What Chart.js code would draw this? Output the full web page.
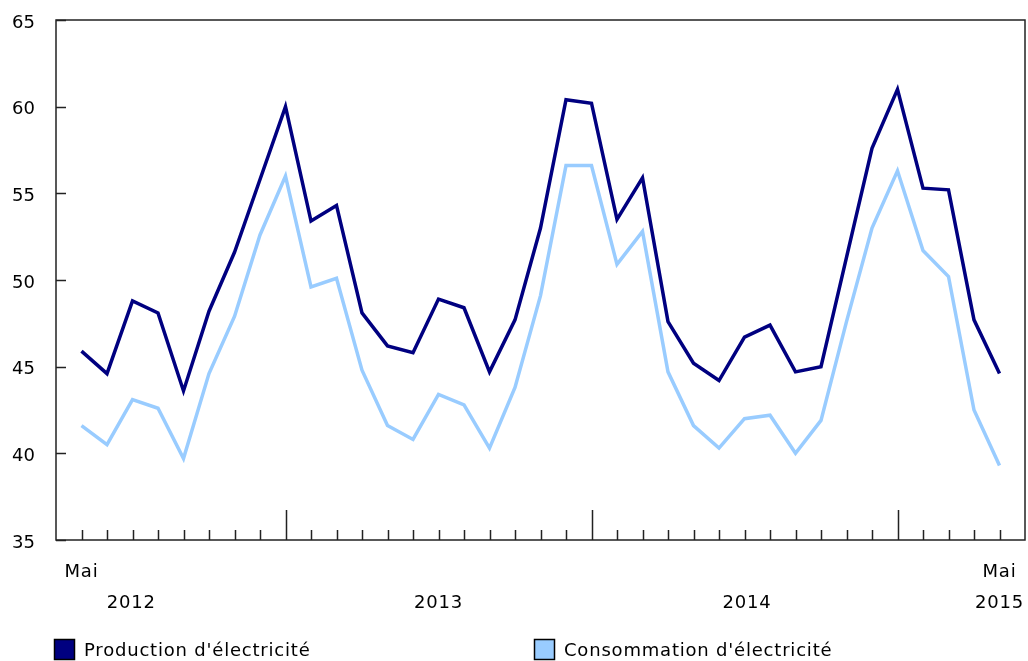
<!DOCTYPE html>
<html>
<head>
<meta charset="utf-8">
<script src="https://cdn.jsdelivr.net/npm/chart.js@4.4.0/dist/chart.umd.min.js"></script>
<style>
  html, body { margin: 0; padding: 0; background: #fff; }
  #wrap { width: 1028px; height: 661px; }
</style>
</head>
<body>
<div id="wrap"><canvas id="mycanvas"></canvas></div>
<script>
// months from May 2012 to May 2015
var months = [
  'mai 2012', 'juin 2012', 'juil. 2012', 'août 2012', 'sept. 2012', 'oct. 2012', 'nov. 2012', 'déc. 2012',
  'janv. 2013', 'févr. 2013', 'mars 2013', 'avr. 2013', 'mai 2013', 'juin 2013', 'juil. 2013', 'août 2013',
  'sept. 2013', 'oct. 2013', 'nov. 2013', 'déc. 2013',
  'janv. 2014', 'févr. 2014', 'mars 2014', 'avr. 2014', 'mai 2014', 'juin 2014', 'juil. 2014', 'août 2014',
  'sept. 2014', 'oct. 2014', 'nov. 2014', 'déc. 2014',
  'janv. 2015', 'févr. 2015', 'mars 2015', 'avr. 2015', 'mai 2015'
];

var production = [
  45.9, 44.6, 48.8, 48.1, 43.6, 48.2, 51.6, 55.8,
  60.0, 53.4, 54.3, 48.1, 46.2, 45.8, 48.9, 48.4, 44.7, 47.7, 53.0, 60.4,
  60.2, 53.5, 55.9, 47.6, 45.2, 44.2, 46.7, 47.4, 44.7, 45.0, 51.3, 57.6,
  61.0, 55.3, 55.2, 47.7, 44.6
];

var consommation = [
  41.6, 40.5, 43.1, 42.6, 39.7, 44.6, 47.9, 52.6,
  56.0, 49.6, 50.1, 44.8, 41.6, 40.8, 43.4, 42.8, 40.3, 43.8, 49.1, 56.6,
  56.6, 50.9, 52.8, 44.7, 41.6, 40.3, 42.0, 42.2, 40.0, 41.9, 47.6, 53.0,
  56.3, 51.7, 50.2, 42.5, 39.3
];

var seriesNames = ["Production d'électricité", "Consommation d'électricité"];
var seriesColors = ['#000080', '#99ccff'];
var yTicks = [35, 40, 45, 50, 55, 60, 65];
var yearLabels = ['2012', '2013', '2014', '2015'];
var yearLabelAt = [1.95, 14, 26.1, 36]; // month index under which each year label sits

var FONT = '"DejaVu Sans", Verdana, sans-serif';

function toPoints(arr) {
  var pts = [];
  for (var i in arr) {
    pts.push({ x: Number(i), y: arr[i] });
  }
  return pts;
}

// frame, inward ticks, x labels and legend
var decor = {
  id: 'decor',
  afterDraw: function(chart) {
    var ctx = chart.ctx;
    var a = chart.chartArea;
    var xs = chart.scales.x;
    var ys = chart.scales.y;
    ctx.save();
    ctx.strokeStyle = '#222';
    ctx.lineWidth = 1.5;
    ctx.strokeRect(a.left, a.top, a.right - a.left, a.bottom - a.top);

    ctx.beginPath();
    for (var i = 0; i < months.length; i++) {
      var px = Math.round(xs.getPixelForValue(i)) + 0.5;
      var len = months[i].indexOf('janv.') === 0 ? 30 : 10;
      ctx.moveTo(px, a.bottom);
      ctx.lineTo(px, a.bottom - len);
    }
    yTicks.forEach(function(v) {
      var py = Math.round(ys.getPixelForValue(v)) + 0.5;
      ctx.moveTo(a.left, py);
      ctx.lineTo(a.left + 10, py);
    });
    ctx.stroke();

    // x labels
    ctx.fillStyle = '#000';
    ctx.font = '18px ' + FONT;
    ctx.letterSpacing = '0.8px';
    ctx.textBaseline = 'middle';
    ctx.textAlign = 'center';
    var last = months.length - 1;
    ctx.fillText('Mai', xs.getPixelForValue(0), 572);
    ctx.fillText('Mai', xs.getPixelForValue(last), 572);
    for (var k = 0; k < yearLabels.length; k++) {
      ctx.fillText(yearLabels[k], xs.getPixelForValue(yearLabelAt[k]), 603);
    }

    // legend
    var legX = [54, 534];
    ctx.textAlign = 'left';
    chart.data.datasets.forEach(function(ds, j) {
      ctx.fillStyle = ds.borderColor;
      ctx.fillRect(legX[j], 639, 21, 21);
      ctx.strokeStyle = '#000';
      ctx.lineWidth = 1.5;
      ctx.strokeRect(legX[j] + 0.5, 639.5, 20, 20);
      ctx.fillStyle = '#000';
      ctx.fillText(ds.label, legX[j] + 30, 651);
    });
    ctx.restore();
  }
};

var chartdata = {
  datasets: [
    {
      label: seriesNames[0],
      borderColor: seriesColors[0],
      backgroundColor: seriesColors[0],
      borderWidth: 3.5,
      pointRadius: 0,
      tension: 0,
      data: toPoints(production)
    },
    {
      label: seriesNames[1],
      borderColor: seriesColors[1],
      backgroundColor: seriesColors[1],
      borderWidth: 3.5,
      pointRadius: 0,
      tension: 0,
      data: toPoints(consommation)
    }
  ]
};

var ctx = document.getElementById('mycanvas');

var lineChart = new Chart(ctx, {
  type: 'line',
  data: chartdata,
  plugins: [decor],
  options: {
    responsive: true,
    maintainAspectRatio: false,
    animation: false,
    layout: { padding: { top: 20, right: 3, bottom: 121, left: 0 } },
    plugins: {
      legend: { display: false },
      tooltip: { enabled: false }
    },
    scales: {
      x: {
        type: 'linear',
        min: -1,
        max: months.length,
        display: false
      },
      y: {
        min: 35,
        max: 65,
        afterFit: function(scale) {
          scale.width = 56;
          // tick padding would otherwise push the plot down
          scale.paddingTop = 0;
          scale.paddingBottom = 0;
        },
        afterBuildTicks: function(scale) {
          scale.ticks = yTicks.map(function(v) { return { value: v }; });
        },
        grid: { display: false, drawTicks: false },
        border: { display: false },
        ticks: {
          padding: 21,
          labelOffset: 3,
          color: '#000',
          font: { family: FONT, size: 18 }
        }
      }
    }
  }
});
</script>
</body>
</html>
